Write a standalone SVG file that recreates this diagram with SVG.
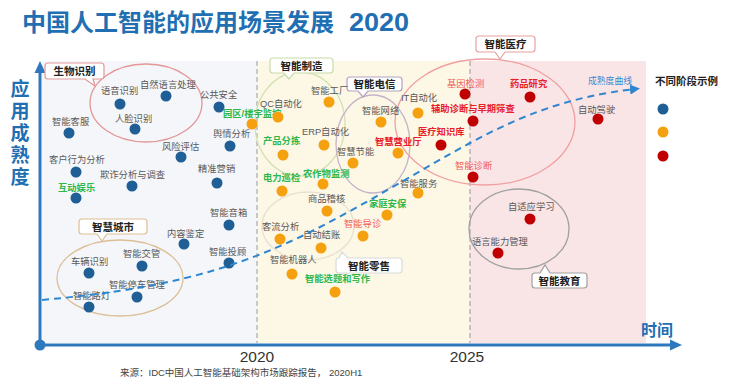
<svg xmlns="http://www.w3.org/2000/svg" width="741" height="381" viewBox="0 0 741 381">
<defs>
<style>
text{font-family:"Liberation Sans","Noto Sans CJK SC",sans-serif;}
.lb{font-size:9.3px;fill:#595959;}
.gr{font-size:9.3px;fill:#2db84d;font-weight:bold;}
.rb{font-size:9.3px;fill:#e8202a;font-weight:bold;}
.rl{font-size:9.3px;fill:#f25c5c;}
.co{font-size:10.5px;fill:#222;font-weight:bold;text-anchor:middle;}
.b{fill:#1f5f96;}
.o{fill:#f5a00f;}
.r{fill:#c00000;}
.cb{fill:#fff;stroke-width:1.2;}
.el{fill:none;stroke-width:1.3;}
.ax{stroke:#2e78be;stroke-width:3;fill:none;}
.vd{stroke:#a8a8a8;stroke-width:1.2;stroke-dasharray:5 3;}
</style>
<marker id="ah" markerWidth="10" markerHeight="10" refX="6" refY="5" orient="auto" markerUnits="userSpaceOnUse">
<path d="M0,0 L10,5 L0,10 Z" fill="#2e86d0"/>
</marker>
</defs>
<rect width="741" height="381" fill="#fff"/>
<!-- backgrounds -->
<g id="bg">
<rect x="42" y="61" width="215" height="282" fill="#f4f6fa"/>
<rect x="257" y="61" width="213" height="282" fill="#fdf7e5"/>
<rect x="470" y="61" width="176" height="282" fill="#f9e4e6"/>
<line class="vd" x1="257" y1="61" x2="257" y2="343"/>
<line class="vd" x1="470" y1="61" x2="470" y2="343"/>
</g>
<!-- title -->
<g id="title" font-weight="bold" fill="#1f6fb2">
<text x="22" y="31" font-size="24">中国人工智能的应用场景发展</text>
<text x="349" y="31" font-size="25" textLength="60" lengthAdjust="spacingAndGlyphs">2020</text>
</g>
<!-- axes -->
<g id="axes">
<line class="ax" x1="40" y1="345" x2="40" y2="72"/>
<polygon points="40,61 34.5,73 45.5,73" fill="#2e78be"/>
<line class="ax" x1="40" y1="345" x2="671" y2="345"/>
<polygon points="682,345 670,339.5 670,350.5" fill="#2e78be"/>
<circle cx="40" cy="345" r="5.5" fill="#2e78be"/>
<g font-size="19" font-weight="bold" fill="#1f6fb2" text-anchor="middle">
<text x="20" y="96">应</text>
<text x="20" y="118">用</text>
<text x="20" y="140">成</text>
<text x="20" y="162">熟</text>
<text x="20" y="184">度</text>
</g>
<text x="641" y="336" font-size="16" font-weight="bold" fill="#1f6fb2">时间</text>
<text x="257" y="362" font-size="15.5" fill="#333" text-anchor="middle">2020</text>
<text x="467" y="362" font-size="15.5" fill="#333" text-anchor="middle">2025</text>
<text x="120" y="376" font-size="9.5" fill="#444">来源：IDC中国人工智能基础架构市场跟踪报告， 2020H1</text>
</g>
<!-- legend -->
<g id="legend">
<text x="655" y="85" font-size="10.5" font-weight="bold" fill="#222">不同阶段示例</text>
<circle class="b" cx="663" cy="109" r="5.5"/>
<circle class="o" cx="663" cy="132" r="5.5"/>
<circle class="r" cx="663" cy="156" r="5.5"/>
</g>
<!-- group ellipses -->
<g id="group-ellipses">
<ellipse class="el" cx="146" cy="103" rx="56" ry="39" stroke="#e39898"/>
<ellipse class="el" cx="120" cy="278" rx="63" ry="38" stroke="#dcbf96"/>
<ellipse class="el" cx="300" cy="124" rx="45" ry="52" stroke="#d2e2b4"/>
<ellipse class="el" cx="373" cy="144" rx="37" ry="49" stroke="#c5b3c8"/>
<ellipse class="el" cx="485" cy="122" rx="90" ry="63" stroke="#f0a0a0"/>
<ellipse class="el" cx="308" cy="226" rx="46" ry="34" stroke="#e6e1d4"/>
<ellipse class="el" cx="519" cy="229" rx="50" ry="40" stroke="#a0a0a0"/>
</g>
<!-- callouts -->
<g id="callout-shengwu">
<path class="cb" stroke="#e39898" d="M48,63 H101 Q104,63 104,66 V76 Q104,79 101,79 H93 L95,86 L85,79 H48 Q45,79 45,76 V66 Q45,63 48,63 Z"/>
<text class="co" x="74.5" y="75">生物识别</text>
</g>
<g id="callout-chengshi">
<path class="cb" stroke="#dcbf96" d="M82,219 H144 Q147,219 147,222 V231 Q147,234 144,234 H107 L102,241 L97,234 H82 Q79,234 79,231 V222 Q79,219 82,219 Z"/>
<text class="co" x="113" y="230.5">智慧城市</text>
</g>
<g id="callout-zhizao">
<path class="cb" stroke="#c8dca8" d="M273,58 H330 Q333,58 333,61 V70 Q333,73 330,73 H294 L289,79 L284,73 H273 Q270,73 270,70 V61 Q270,58 273,58 Z"/>
<text class="co" x="301.5" y="69.5">智能制造</text>
</g>
<g id="callout-dianxin">
<path class="cb" stroke="#b3a3c0" d="M350,77 H399 Q402,77 402,80 V88 Q402,91 399,91 H368 L363,97 L358,91 H350 Q347,91 347,88 V80 Q347,77 350,77 Z"/>
<text class="co" x="374.5" y="88">智能电信</text>
</g>
<g id="callout-yiliao">
<path class="cb" stroke="#e8a0a0" d="M479,36 H532 Q535,36 535,39 V49 Q535,52 532,52 H505 L500,59 L495,52 H479 Q476,52 476,49 V39 Q476,36 479,36 Z"/>
<text class="co" x="505.5" y="48">智能医疗</text>
</g>
<g id="callout-lingshou">
<path class="cb" stroke="#dadada" d="M339,258 L342,252 L348,258 H399 Q402,258 402,261 V270 Q402,273 399,273 H339 Q336,273 336,270 V261 Q336,258 339,258 Z"/>
<text class="co" x="369" y="269.5">智能零售</text>
</g>
<g id="callout-jiaoyu">
<path class="cb" stroke="#a0a0a0" d="M535,273 H540 L545,265 L550,273 H584 Q587,273 587,276 V285 Q587,288 584,288 H535 Q532,288 532,285 V276 Q532,273 535,273 Z"/>
<text class="co" x="559.5" y="284.5">智能教育</text>
</g>
<!-- nodes: stage 1 (blue) -->
<g id="n-yuyin"><text class="lb" x="101" y="93.5">语音识别</text><circle class="b" cx="120" cy="104" r="5.5"/></g>
<g id="n-ziran"><text class="lb" x="140" y="87.5">自然语言处理</text><circle class="b" cx="166" cy="96" r="5.5"/></g>
<g id="n-renlian"><text class="lb" x="115" y="121.5">人脸识别</text><circle class="b" cx="135" cy="129" r="5.5"/></g>
<g id="n-gonggong"><text class="lb" x="200" y="97.5">公共安全</text><circle class="b" cx="219" cy="107" r="5.5"/></g>
<g id="n-kefu"><text class="lb" x="52" y="124.5">智能客服</text><circle class="b" cx="69" cy="133" r="5.5"/></g>
<g id="n-yuqing"><text class="lb" x="213" y="136.5">舆情分析</text><circle class="b" cx="230" cy="146" r="5.5"/></g>
<g id="n-fengxian"><text class="lb" x="162" y="149.5">风险评估</text><circle class="b" cx="181" cy="157" r="5.5"/></g>
<g id="n-kehu"><text class="lb" x="49" y="162.5">客户行为分析</text><circle class="b" cx="76" cy="172" r="5.5"/></g>
<g id="n-qizha"><text class="lb" x="100" y="177.5">欺诈分析与调查</text><circle class="b" cx="132" cy="186" r="5.5"/></g>
<g id="n-jingzhun"><text class="lb" x="198" y="171.5">精准营销</text><circle class="b" cx="217" cy="183" r="5.5"/></g>
<g id="n-hudong"><text class="gr" x="58" y="190.5">互动娱乐</text><circle class="b" cx="76" cy="198" r="5.5"/></g>
<g id="n-yinxiang"><text class="lb" x="210" y="215.5">智能音箱</text><circle class="b" cx="229" cy="225" r="5.5"/></g>
<g id="n-neirong"><text class="lb" x="167" y="236.5">内容鉴定</text><circle class="b" cx="184" cy="244" r="5.5"/></g>
<g id="n-tougu"><text class="lb" x="209" y="254.5">智能投顾</text><circle class="b" cx="229" cy="263" r="5.5"/></g>
<g id="n-cheliang"><text class="lb" x="71" y="264.5">车辆识别</text><circle class="b" cx="89" cy="273" r="5.5"/></g>
<g id="n-jiaoguan"><text class="lb" x="123" y="256.5">智能交管</text><circle class="b" cx="142" cy="266" r="5.5"/></g>
<g id="n-tingche"><text class="lb" x="109" y="287.5">智能停车管理</text><circle class="b" cx="137" cy="297" r="5.5"/></g>
<g id="n-ludeng"><text class="lb" x="73" y="298.5">智能路灯</text><circle class="b" cx="89" cy="307" r="5.5"/></g>
<!-- nodes: stage 2 (orange) -->
<g id="n-gongchang"><text class="lb" x="311" y="93.5">智能工厂</text><circle class="o" cx="329" cy="102" r="5.5"/></g>
<g id="n-yuanqu"><text class="gr" x="223" y="116.5">园区/楼宇监控</text><circle class="o" cx="252" cy="124" r="5.5"/></g>
<g id="n-qc"><text class="lb" x="260" y="106.5">QC自动化</text><circle class="o" cx="278" cy="117" r="5.5"/></g>
<g id="n-erp"><text class="lb" x="302" y="134.5">ERP自动化</text><circle class="o" cx="324" cy="145" r="5.5"/></g>
<g id="n-fenjian"><text class="gr" x="263" y="143.5">产品分拣</text><circle class="o" cx="283" cy="155" r="5.5"/></g>
<g id="n-wangluo"><text class="lb" x="362" y="113.5">智能网络</text><circle class="o" cx="381" cy="122" r="5.5"/></g>
<g id="n-it"><text class="lb" x="401" y="100.5">IT自动化</text><circle class="o" cx="418" cy="113" r="5.5"/></g>
<g id="n-yingyeting"><text class="rb" x="375" y="144.5">智慧营业厅</text><circle class="o" cx="398" cy="153" r="5.5"/></g>
<g id="n-jieneng"><text class="lb" x="337" y="154.5">智慧节能</text><circle class="o" cx="353" cy="163" r="5.5"/></g>
<g id="n-fuwu"><text class="lb" x="400" y="186.5">智能服务</text><circle class="o" cx="418" cy="193" r="5.5"/></g>
<g id="n-dianli"><text class="gr" x="263" y="180.5">电力巡检</text><circle class="o" cx="282" cy="191" r="5.5"/></g>
<g id="n-nongzuowu"><text class="gr" x="303" y="176.5">农作物监测</text><circle class="o" cx="323" cy="184" r="5.5"/></g>
<g id="n-shangpin"><text class="lb" x="308" y="201.5">商品稽核</text><circle class="o" cx="327" cy="211" r="5.5"/></g>
<g id="n-jiating"><text class="gr" x="369" y="206.5">家庭安保</text><circle class="o" cx="387" cy="215" r="5.5"/></g>
<g id="n-daozhen"><text class="rl" x="344" y="226.5">智能导诊</text><circle class="o" cx="363" cy="236" r="5.5"/></g>
<g id="n-keliu"><text class="lb" x="262" y="229.5">客流分析</text><circle class="o" cx="280" cy="239" r="5.5"/></g>
<g id="n-jiezhang"><text class="lb" x="303" y="237.5">自动结账</text><circle class="o" cx="321" cy="248" r="5.5"/></g>
<g id="n-jiqiren"><text class="lb" x="270" y="262.5">智能机器人</text><circle class="o" cx="292" cy="274" r="5.5"/></g>
<g id="n-xuanti"><text class="gr" x="305" y="281.5">智能选题和写作</text><circle class="o" cx="335" cy="292" r="5.5"/></g>
<!-- nodes: stage 3 (red) -->
<g id="n-jiyin"><text class="rl" x="447" y="86.5">基因检测</text><circle class="r" cx="465" cy="94" r="5.5"/></g>
<g id="n-yaopin"><text class="rb" x="510" y="86.5">药品研究</text><circle class="r" cx="530" cy="97" r="5.5"/></g>
<g id="n-fuzhu"><text class="rb" x="431" y="111.5">辅助诊断与早期筛查</text><circle class="r" cx="473" cy="121" r="5.5"/></g>
<g id="n-zhishiku"><text class="rb" x="418" y="134.5">医疗知识库</text><circle class="r" cx="441" cy="145" r="5.5"/></g>
<g id="n-zhenduan"><text class="rl" x="455" y="168.5">智能诊断</text><circle class="r" cx="473" cy="177" r="5.5"/></g>
<g id="n-jiashi"><text class="lb" x="578" y="112.5">自动驾驶</text><circle class="r" cx="598" cy="119" r="5.5"/></g>
<g id="n-zishiying"><text class="lb" x="508" y="209.5">自适应学习</text><circle class="r" cx="530" cy="219" r="5.5"/></g>
<g id="n-yuyan"><text class="lb" x="472" y="244.5">语言能力管理</text><circle class="r" cx="498" cy="253" r="5.5"/></g>
<!-- connectors: maturity curve -->
<g id="connectors">
<path d="M42,300 C150,290 220,275 300,237 C360,208 420,170 470,143 C520,116 570,96 636,89" fill="none" stroke="#2e86d0" stroke-width="2" stroke-dasharray="7 5" marker-end="url(#ah)"/>
<text x="588" y="84" font-size="8.8" fill="#3a8ad0">成熟度曲线</text>
</g>
</svg>
